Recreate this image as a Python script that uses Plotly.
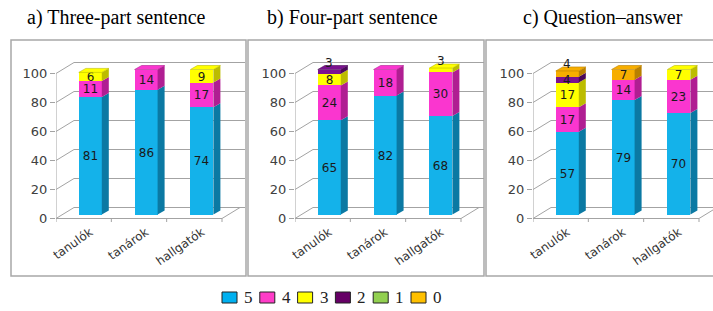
import plotly.graph_objects as go

# ---------------- data ----------------
categories = ["tanulók", "tanárok", "hallgatók"]
grades = ["5", "4", "3", "2", "1", "0"]
panel_titles = ["a) Three-part sentence", "b) Four-part sentence", "c) Question\u2013answer"]
y_ticks = [0, 20, 40, 60, 80, 100]

# panel a) values per grade for [tanulók, tanárok, hallgatók]
a_5 = [81, 86, 74]
a_4 = [11, 14, 17]
a_3 = [6, None, 9]
a_2 = [None, None, None]
a_1 = [None, None, None]
a_0 = [None, None, None]
# panel b)
b_5 = [65, 82, 68]
b_4 = [24, 18, 30]
b_3 = [8, None, 3]
b_2 = [3, None, None]
b_1 = [None, None, None]
b_0 = [None, None, None]
# panel c)
c_5 = [57, 79, 70]
c_4 = [17, 14, 23]
c_3 = [17, None, 7]
c_2 = [4, None, None]
c_1 = [None, None, None]
c_0 = [4, 7, None]

panels = [
    [a_5, a_4, a_3, a_2, a_1, a_0],
    [b_5, b_4, b_3, b_2, b_1, b_0],
    [c_5, c_4, c_3, c_2, c_1, c_0],
]

# ---------------- style ----------------
face = {"5": "#14B2EA", "4": "#FA36CF", "3": "#FFFF00", "2": "#7B1190", "1": "#92D050", "0": "#F7AE00"}
side = {"5": "#0B79A3", "4": "#B01E92", "3": "#BCBC00", "2": "#4A0858", "1": "#5E8F2E", "0": "#B98000"}
legend_col = {"5": "#00B0F0", "4": "#FF3CC8", "3": "#FFFF00", "2": "#660066", "1": "#92D050", "0": "#FFC000"}

W, H = 713, 311
axis_px = [56, 295, 533]       # front y-axis line x (px)
right_px = [245, 484, 713]     # right edge of back wall (px)
box_px = [(11, 246), (248, 484), (486, 716)]
title_x = [116, 352, 603]
first_c = 34.3                 # first bar center offset from axis (px)
step = 55.8                    # px per category
bar_w_px = 23
zero_px, top_px, bot_px = 214.5, 56, 222
ppu = 1.45                     # px per value unit
front_px = 218.5               # front floor line (value 0 at axis)
floor_len = 166                # length of front floor edge (px)
bar_depth = (7, 4)
wall_depth = (18, 11)
small_seg = 5                  # segments smaller than this get an annotation label

ymin = (zero_px - bot_px) / ppu
ymax = (zero_px - top_px) / ppu
dom_y = [(H - bot_px) / H, (H - top_px) / H]
fshift = -(front_px - zero_px) / ppu   # front-plane offset in value units
grid_col = "#a3a3a3"
lab_font = dict(family="DejaVu Sans", size=12, color="#1a1a1a")

fig = go.Figure()
shapes = []
annotations = []

for p, values in enumerate(panels):
    sfx = "" if p == 0 else str(p + 1)
    xref, yref = "x" + sfx, "y" + sfx
    xl = -first_c / step
    xr = (right_px[p] - axis_px[p] - first_c) / step
    bw = bar_w_px / step
    dxb, dyb = bar_depth[0] / step, bar_depth[1] / ppu
    dxw, dyw = wall_depth[0] / step, wall_depth[1] / ppu

    # which grade is the top segment of each bar
    top_grade = [None] * len(categories)
    for g, vals in zip(grades, values):
        for i, v in enumerate(vals):
            if v:
                top_grade[i] = g

    base = [0.0] * len(categories)
    for g, vals in zip(grades, values):
        texts = []
        for i, v in enumerate(vals):
            if v and v < small_seg:
                texts.append("")
                if top_grade[i] == g:
                    annotations.append(dict(
                        text=str(v), xref=xref, yref=yref, x=i, y=base[i] + v,
                        showarrow=False, xanchor="center", yanchor="bottom",
                        yshift=-2, font=lab_font))
                else:
                    annotations.append(dict(
                        text=str(v), xref=xref, yref=yref, x=i, y=base[i] + v / 2,
                        showarrow=False, xanchor="center", yanchor="middle",
                        font=lab_font))
            else:
                texts.append(str(v) if v else "")
        fig.add_trace(go.Bar(
            x=list(range(len(categories))), y=vals,
            width=bw, marker=dict(color=face[g], line=dict(width=0)),
            text=texts,
            textposition="inside", insidetextanchor="middle", textangle=0,
            textfont=lab_font,
            cliponaxis=False, showlegend=False, hoverinfo="skip",
            xaxis=xref, yaxis=yref, name=g,
        ))
        for i, v in enumerate(vals):
            if not v:
                continue
            b0, b1 = base[i], base[i] + v
            r = i + bw / 2
            shapes.append(dict(
                type="path", xref=xref, yref=yref, layer="above",
                path=f"M{r},{b0} L{r+dxb},{b0+dyb} L{r+dxb},{b1+dyb} L{r},{b1} Z",
                fillcolor=side[g], line=dict(width=0)))
            base[i] = b1
    for i, g in enumerate(top_grade):
        t = base[i]
        l, r = i - bw / 2, i + bw / 2
        shapes.append(dict(
            type="path", xref=xref, yref=yref, layer="above",
            path=f"M{l},{t} L{l+dxb},{t+dyb} L{r+dxb},{t+dyb} L{r},{t} Z",
            fillcolor=face[g], line=dict(color=side[g], width=0.6)))

    # back wall grid lines with left side-wall diagonals
    for v in y_ticks:
        yf = v + fshift
        shapes.append(dict(
            type="path", xref=xref, yref=yref, layer="below",
            path=f"M{xl},{yf} L{xl+dxw},{yf+dyw} L{xr},{yf+dyw}",
            line=dict(color=grid_col, width=1)))
    # front y axis line and floor front edge
    xfr = (floor_len - first_c) / step
    shapes.append(dict(type="line", xref=xref, yref=yref, layer="below",
                       x0=xl, x1=xl, y0=fshift, y1=100 + fshift,
                       line=dict(color=grid_col, width=1)))
    shapes.append(dict(type="path", xref=xref, yref=yref, layer="below",
                       path=f"M{xl},{fshift} L{xfr},{fshift} L{xfr+dxw},{fshift+dyw}",
                       line=dict(color=grid_col, width=1)))
    for k in range(len(categories) + 1):
        xt = xl + k * (xfr - xl) / len(categories)
        shapes.append(dict(type="line", xref=xref, yref=yref, layer="below",
                           x0=xt, x1=xt, y0=fshift, y1=fshift - 4 / ppu,
                           line=dict(color=grid_col, width=1)))

    fig.update_layout(**{
        "xaxis" + sfx: dict(
            domain=[axis_px[p] / W, min(right_px[p] / W, 1.0)], range=[xl, xr],
            anchor=yref, tickvals=list(range(len(categories))), ticktext=categories,
            tickangle=-35, ticks="", showgrid=False, zeroline=False, showline=False,
            tickfont=dict(family="DejaVu Sans", size=12, color="#333333"),
            automargin=False, fixedrange=True),
        "yaxis" + sfx: dict(
            domain=dom_y, range=[ymin, ymax], anchor=xref,
            tickvals=[v + fshift for v in y_ticks], ticktext=[str(v) for v in y_ticks],
            ticks="outside", ticklen=5, tickcolor=grid_col,
            showgrid=False, zeroline=False, showline=False,
            tickfont=dict(family="DejaVu Sans", size=13, color="#404040"),
            automargin=False, fixedrange=True),
    })

    # panel frame and title
    x0, x1 = box_px[p]
    shapes.append(dict(type="rect", xref="paper", yref="paper", layer="below",
                       x0=x0 / W, x1=x1 / W, y0=1 - 276 / H, y1=1 - 40 / H,
                       line=dict(color="#a8a8a8", width=1.5)))
    annotations.append(dict(text=panel_titles[p], xref="paper", yref="paper",
                            x=title_x[p] / W, y=1 - 18 / H, showarrow=False,
                            xanchor="center", yanchor="middle",
                            font=dict(family="Liberation Serif", size=20, color="#000000")))

# manual legend
leg_x0, leg_step, leg_y = 222, 37.8, 297.5
for k, g in enumerate(grades):
    sx = leg_x0 + k * leg_step
    shapes.append(dict(type="rect", xref="paper", yref="paper",
                       x0=sx / W, x1=(sx + 15) / W,
                       y0=1 - (leg_y + 5.5) / H, y1=1 - (leg_y - 5.5) / H,
                       fillcolor=legend_col[g], line=dict(color="#222222", width=1)))
    annotations.append(dict(text=g, xref="paper", yref="paper",
                            x=(sx + 20) / W, y=1 - leg_y / H, showarrow=False,
                            xanchor="left", yanchor="middle",
                            font=dict(family="Liberation Serif", size=17, color="#222222")))

fig.update_layout(
    width=W, height=H, margin=dict(l=0, r=0, t=0, b=0),
    paper_bgcolor="white", plot_bgcolor="rgba(0,0,0,0)",
    barmode="stack", bargap=0, showlegend=False,
    uniformtext=dict(minsize=12, mode="show"),
    shapes=shapes, annotations=annotations,
)

fig.write_html("out.html", config={"displayModeBar": False},
               post_script="document.body.style.margin='0';")
